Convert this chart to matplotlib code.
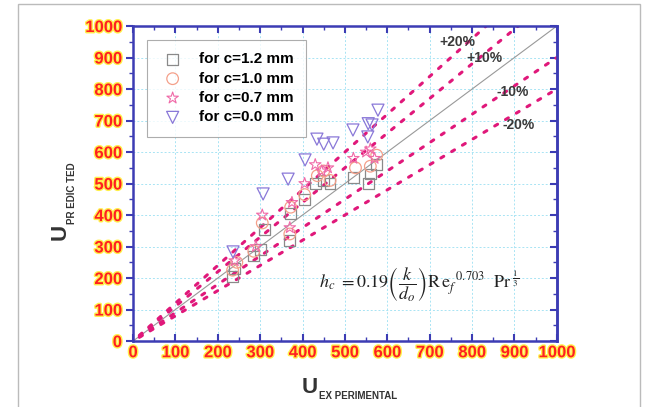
import matplotlib
matplotlib.use("Agg")
import matplotlib.pyplot as plt
import matplotlib.patheffects as pe
from matplotlib.patches import Rectangle
from matplotlib.ticker import MultipleLocator

plt.rcParams["font.family"] = ["Liberation Sans", "DejaVu Sans"]

# data
x_12 = [235, 240, 285, 300, 310, 370, 372, 405, 430, 450, 465, 520, 555, 560, 575]
y_12 = [205, 230, 270, 290, 355, 320, 405, 450, 500, 510, 500, 520, 500, 530, 560]

x_10 = [235, 245, 285, 305, 370, 372, 405, 435, 450, 465, 525, 560, 575]
y_10 = [225, 250, 285, 375, 340, 425, 465, 525, 540, 510, 550, 555, 590]

x_07 = [240, 290, 305, 370, 375, 405, 430, 445, 460, 520, 550, 560, 570]
y_07 = [255, 300, 400, 360, 440, 500, 560, 540, 550, 580, 600, 610, 580]

x_00 = [236, 307, 366, 406, 434, 450, 472, 519, 554, 555, 564, 578]
y_00 = [283, 467, 514, 575, 641, 625, 629, 670, 648, 690, 686, 733]

bands = [1.2, 1.1, 0.9, 0.8]
band_labels = ["+20%", "+10%", "-10%", "-20%"]
band_x = [765, 830, 895, 910]
band_y = [950, 900, 790, 686]
ticks = [0, 100, 200, 300, 400, 500, 600, 700, 800, 900, 1000]

fig = plt.figure(figsize=(6.52, 4.07), dpi=100)
ax = fig.add_axes([0.204, 0.162, 0.650, 0.774])

# grid
for t in ticks[1:-1]:
    ax.axvline(t, color="#a8e4f4", lw=0.7, ls=(0, (2, 2)), zorder=0)
    ax.axhline(t, color="#a8e4f4", lw=0.7, ls=(0, (2, 2)), zorder=0)

# 1:1 line and error bands
ax.plot([0, 1000], [0, 1000], color="#999999", lw=0.8, zorder=1)
for f in bands:
    xe = min(1000, 1000 / f)
    ax.plot([15, xe], [15 * f, xe * f], color="#e0187a", lw=2.2,
            ls=(0, (1.1, 3.0)), dash_capstyle="round", zorder=2)

ax.scatter(x_12, y_12, marker="s", s=60, facecolors="none",
           edgecolors="#8a8a8a", lw=0.9, zorder=3, label="for c=1.2 mm")
ax.scatter(x_10, y_10, marker="o", s=70, facecolors="none",
           edgecolors="#f4a08a", lw=0.9, zorder=3, label="for c=1.0 mm")
ax.scatter(x_07, y_07, marker="*", s=75, facecolors="none",
           edgecolors="#f06aa8", lw=0.8, zorder=3, label="for c=0.7 mm")
ax.scatter(x_00, y_00, marker="v", s=75, facecolors="none",
           edgecolors="#8a78d8", lw=0.9, zorder=3, label="for c=0.0 mm")

ax.set_xlim(0, 1000)
ax.set_ylim(0, 1000)
ax.set_xticks(ticks)
ax.set_yticks(ticks)
ax.xaxis.set_minor_locator(MultipleLocator(50))
ax.yaxis.set_minor_locator(MultipleLocator(50))

for s in ax.spines.values():
    s.set_color("#3c3cb4")
    s.set_linewidth(1.8)

ax.tick_params(axis="both", which="major", length=5, width=1.5, color="#3c3cb4")
ax.tick_params(axis="both", which="minor", length=3, width=1.0, color="#3c3cb4")
ax.tick_params(axis="x", which="both", direction="in", top=True)
ax.tick_params(axis="y", which="both", direction="out", right=False)
ax.tick_params(axis="both", which="major", labelsize=12, labelcolor="#ff2020", pad=3)
ax2 = ax.secondary_yaxis("right")
ax2.set_yticks(ticks)
ax2.yaxis.set_minor_locator(MultipleLocator(50))
ax2.tick_params(which="major", direction="in", length=5, width=1.5, color="#3c3cb4", labelright=False)
ax2.tick_params(which="minor", direction="in", length=3, width=1.0, color="#3c3cb4")
ax2.spines["right"].set_color("#3c3cb4")
ax2.spines["right"].set_linewidth(1.8)

for lab in ax.get_xticklabels() + ax.get_yticklabels():
    lab.set_fontweight("bold")
    lab.set_path_effects([pe.withStroke(linewidth=2, foreground="#fff04a")])

leg = ax.legend(loc="upper left", bbox_to_anchor=(0.025, 0.965), frameon=True,
                fancybox=False, edgecolor="#999999", handletextpad=0.8,
                borderpad=0.8, labelspacing=0.35, prop={"weight": "bold", "size": 11},
                borderaxespad=0.2, handlelength=1.8)
leg.get_frame().set_linewidth(0.8)

for lab, px, py in zip(band_labels, band_x, band_y):
    ax.text(px, py, lab, fontsize=10, fontweight="bold", color="#3a3a3a",
            ha="center", va="center")

ax.text(440, 180,
        r"$h_c\ =0.19\left(\dfrac{k}{d_o}\right)\mathrm{R\,e}_f^{\ \ 0.703}\ \ \mathrm{Pr}^{\ \frac{1}{3}}$",
        fontsize=13, color="#222222", va="center", math_fontfamily="stix")

# axis titles
fig.text(0.475, 0.049, "U", fontsize=16, fontweight="bold", color="#333333",
         ha="center", va="center")
fig.text(0.489, 0.027, "EX PERIMENTAL", fontsize=7, fontweight="bold", color="#333333",
         va="center")
fig.text(0.092, 0.43, "U", fontsize=16, fontweight="bold", color="#333333",
         rotation=90, va="center", ha="center")
fig.text(0.111, 0.45, "PR EDIC TED", fontsize=7, fontweight="bold", color="#333333",
         rotation=90, va="bottom", ha="center")

# outer frame
fig.patches.append(Rectangle((0.028, -0.01), 0.954, 1.0, transform=fig.transFigure,
                             fill=False, edgecolor="#bbbbbb", lw=1.0))

fig.savefig("out.png", dpi=100)
